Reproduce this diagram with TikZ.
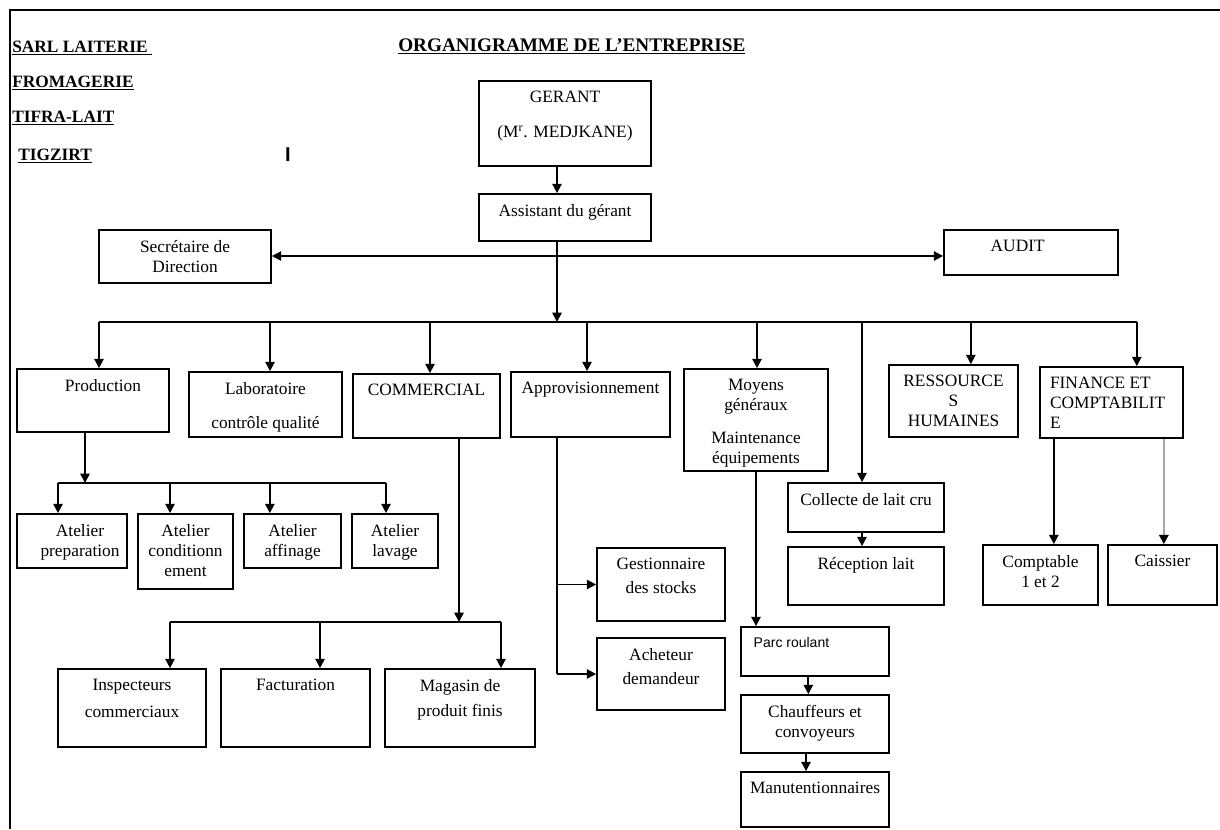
\documentclass[tikz,border=0pt]{standalone}
\usepackage{fontspec}
\setmainfont{Liberation Serif}
\newfontfamily\parcfont{Liberation Sans}
\usetikzlibrary{arrows.meta,fit,positioning}

\newcommand{\boxfont}{\fontsize{13}{15}\selectfont}

\tikzset{
  box/.style={draw, line width=1.3pt, inner sep=0pt},
  lbl/.style={anchor=north, align=center, inner sep=0pt, yshift=-8pt, font=\boxfont},
  arr/.style={line width=1.3pt, -{Triangle[length=7pt,width=7pt]}},
  hdr/.style={anchor=base west, inner sep=0pt, font=\fontsize{13}{15}\selectfont\bfseries},
}

\begin{document}
\begin{tikzpicture}[x=0.75pt, y=-0.75pt]
\useasboundingbox (0,0) rectangle (1220,829);

% page frame
\draw[line width=1.6pt] (10,829) -- (10,10) -- (1220,10);

% heading
\node[hdr] (sarl) at (12,52) {\underline{SARL LAITERIE\ }};
\node[hdr] (froma) at (12,87) {\underline{FROMAGERIE}};
\node[hdr] (tifra) at (12,122) {\underline{TIFRA-LAIT}};
\node[hdr] (tigz) at (18,160) {\underline{TIGZIRT}};
\node[inner sep=0pt, font=\parcfont\bfseries\fontsize{15}{17}\selectfont] (curs) at (288,155) {I};
\node[hdr, font=\fontsize{14.4}{16}\selectfont\bfseries] (ttl) at (398,51) {\underline{ORGANIGRAMME DE L’ENTREPRISE}};

% direction
\node[box, fit={(479,81)(651,166)}, label={[lbl]north:GERANT\\[11pt](M\textsuperscript{r}. MEDJKANE)}] (ger) {};
\node[box, fit={(479,194)(651,241)}, label={[lbl]north:Assistant du gérant}] (asst) {};
\node[box, fit={(99,230)(271,283)}, label={[lbl]north:Secrétaire de\\Direction}] (sec) {};
\node[box, fit={(944,230)(1118,275)}, label={[lbl, xshift=-10pt]north:AUDIT}] (audit) {};

% services
\node[box, fit={(17,369)(169,432)}, label={[lbl, xshift=7.5pt]north:Production}] (prod) {};
\node[box, fit={(189,372)(342,437)}, label={[lbl]north:Laboratoire\\[11pt]contrôle qualité}] (lab) {};
\node[box, fit={(353,374)(500,438)}, label={[lbl]north:COMMERCIAL}] (comm) {};
\node[box, fit={(511,372)(670,437)}, label={[lbl]north:Approvisionnement}] (appro) {};
\node[box, fit={(684,369)(828,471)}, label={[lbl]north:Moyens\\généraux\\[10pt]Maintenance\\équipements}] (moy) {};
\node[box, fit={(889,365)(1018,437)}, label={[lbl]north:RESSOURCE\\S\\HUMAINES}] (rh) {};
\node[box, fit={(1040,367)(1183,438)}, label={[lbl, anchor=north west, align=left, xshift=8pt]north west:FINANCE ET\\COMPTABILIT\\E}] (fin) {};

% ateliers
\node[box, fit={(17,514)(127,568)}, label={[lbl, xshift=6pt]north:Atelier\\preparation}] (prep) {};
\node[box, fit={(138,514)(233,589)}, label={[lbl]north:Atelier\\conditionn\\ement}] (cond) {};
\node[box, fit={(244,514)(341,568)}, label={[lbl]north:Atelier\\affinage}] (aff) {};
\node[box, fit={(352,514)(438,568)}, label={[lbl]north:Atelier\\lavage}] (lav) {};

% commercial
\node[box, fit={(58,669)(206,747)}, label={[lbl]north:Inspecteurs\\[5pt]commerciaux}] (insp) {};
\node[box, fit={(221,669)(370,747)}, label={[lbl]north:Facturation}] (fact) {};
\node[box, fit={(385,669)(535,747)}, label={[lbl]north:Magasin de\\[4pt]produit finis}] (mag) {};

% approvisionnement
\node[box, fit={(597,548)(725,621)}, label={[lbl]north:Gestionnaire\\[3pt]des stocks}] (gest) {};
\node[box, fit={(597,638)(725,710)}, label={[lbl]north:Acheteur\\[3pt]demandeur}] (ach) {};

% lait cru
\node[box, fit={(788,483)(944,532)}, label={[lbl]north:Collecte de lait cru}] (coll) {};
\node[box, fit={(788,547)(944,605)}, label={[lbl]north:Réception lait}] (recep) {};

% moyens generaux
\node[box, fit={(741,627)(889,676)}, label={[lbl, anchor=north west, xshift=10pt, font=\parcfont\fontsize{10.5}{12}\selectfont]north west:Parc roulant}] (parc) {};
\node[box, fit={(741,695)(889,753)}, label={[lbl]north:Chauffeurs et\\convoyeurs}] (chauf) {};
\node[box, fit={(741,772)(889,827)}, label={[lbl]north:Manutentionnaires}] (manut) {};

% finance
\node[box, fit={(983,545)(1098,605)}, label={[lbl]north:Comptable\\1 et 2}] (compt) {};
\node[box, fit={(1108,545)(1217,605)}, label={[lbl]north:Caissier}] (caiss) {};

% connectors
\coordinate (hub) at (557,322);
\coordinate (mid) at (557,256);
\draw[arr] (ger.south -| hub) -- (asst.north -| hub);
\draw[arr] (asst.south -| hub) -- (hub);
\draw[line width=1.3pt, {Triangle[length=7pt,width=7pt]}-{Triangle[length=7pt,width=7pt]}] (sec.east |- mid) -- (audit.west |- mid);

\draw[line width=1.3pt] ([xshift=4.5pt]prod.north |- hub) -- ([xshift=19pt]fin.north |- hub);
\foreach \n/\dx in {prod/4.5, lab/3.4, comm/2.6, appro/-2.6, moy/0.75, coll/-3, rh/13, fin/19}
  \draw[arr] ([xshift=\dx pt]\n.north |- hub) -- ([xshift=\dx pt]\n.north);

% production
\coordinate (pbus) at (85,483);
\draw[arr] (prod.south -| pbus) -- (pbus);
\draw[line width=1.3pt] ([xshift=-10.5pt]prep.north |- pbus) -- ([xshift=-6.75pt]lav.north |- pbus);
\foreach \n/\dx in {prep/-10.5, cond/-11.6, aff/-17, lav/-6.75}
  \draw[arr] ([xshift=\dx pt]\n.north |- pbus) -- ([xshift=\dx pt]\n.north);

% commercial
\coordinate (cbus) at (459,622);
\draw[arr] (comm.south -| cbus) -- (cbus);
\draw[line width=1.3pt] ([xshift=28.5pt]insp.north |- cbus) -- ([xshift=30.75pt]mag.north |- cbus);
\foreach \n/\dx in {insp/28.5, fact/18.4, mag/30.75}
  \draw[arr] ([xshift=\dx pt]\n.north |- cbus) -- ([xshift=\dx pt]\n.north);

% approvisionnement
\coordinate (abus) at (557,0);
\draw[line width=1.3pt] (appro.south -| abus) -- (abus |- ach.west);
\draw[arr] (abus |- gest.west) -- (gest.west);
\draw[arr] (abus |- ach.west) -- (ach.west);

% moyens generaux
\draw[arr] (moy.south) -- (moy.south |- parc.north);
\draw[arr] ([xshift=-5pt]parc.south) -- ([xshift=-5pt]chauf.north);
\draw[arr] ([xshift=-6.75pt]chauf.south) -- ([xshift=-6.75pt]manut.north);

% lait cru
\draw[arr] ([xshift=-3pt]coll.south) -- ([xshift=-3pt]recep.north);

% finance
\draw[arr] ([xshift=10pt]compt.north |- fin.south) -- ([xshift=10pt]compt.north);
\draw[line width=1.8pt, gray!70, -{Triangle[length=7pt,width=7pt,color=black]}] ([xshift=1pt]caiss.north |- fin.south) -- ([xshift=1pt]caiss.north);

\end{tikzpicture}
\end{document}
